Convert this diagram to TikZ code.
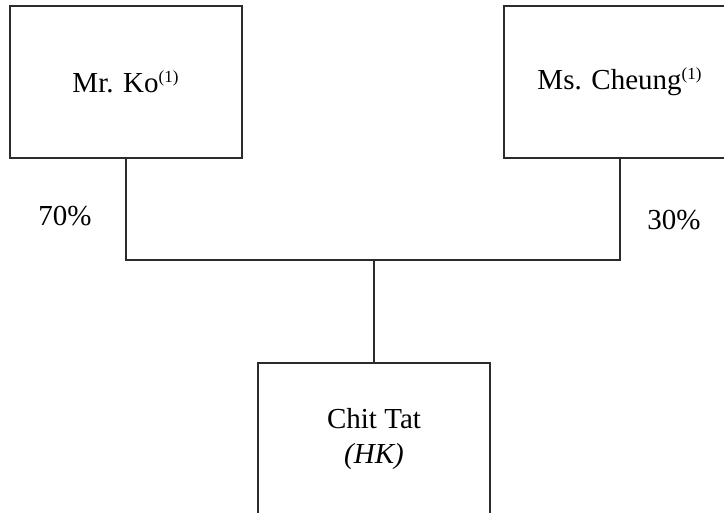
\documentclass[tikz,border=0pt]{standalone}
\usepackage{fontspec}
\setmainfont{Liberation Serif}
\usepackage{xcolor}
\usepackage{tikz}
\usetikzlibrary{positioning, calc}
\definecolor{ink}{HTML}{2B2B2B}
\newcommand{\fnref}[1]{\textsuperscript{\fontsize{8.5}{9}\selectfont(#1)}}
\tikzset{
  owner/.style = {rectangle, draw=ink, line width=0.6pt, fill=white,
                  minimum width=116pt, minimum height=76pt, inner sep=0pt,
                  align=center, font=\fontsize{14.5}{17.5}\selectfont},
  share/.style = {font=\fontsize{14.5}{17}\selectfont, inner sep=0pt},
  link/.style  = {draw=ink, line width=0.6pt},
}

\begin{document}
\begin{tikzpicture}[x=0.5pt, y=-0.5pt]
  \useasboundingbox (0,0) rectangle (724,513);
  \clip (0,0) rectangle (724,513);

  % shareholders
  \node[owner] (ko)     at (126,82) {Mr. Ko\fnref{1}};
  \node[owner] (cheung) at (620,82) {Ms. Cheung\fnref{1}};

  % company
  \node[owner] (chittat) at (374,439) {Chit Tat\\\textit{(HK)}};

  \coordinate (join) at (374,260);
  \draw[link] (ko.south) |- (join) -| (cheung.south);
  \draw[link] (join) -- (chittat.north);

  \node[share] (pko)     at (65,216)  {70\%};
  \node[share] (pcheung) at (674,220) {30\%};
\end{tikzpicture}
\end{document}
